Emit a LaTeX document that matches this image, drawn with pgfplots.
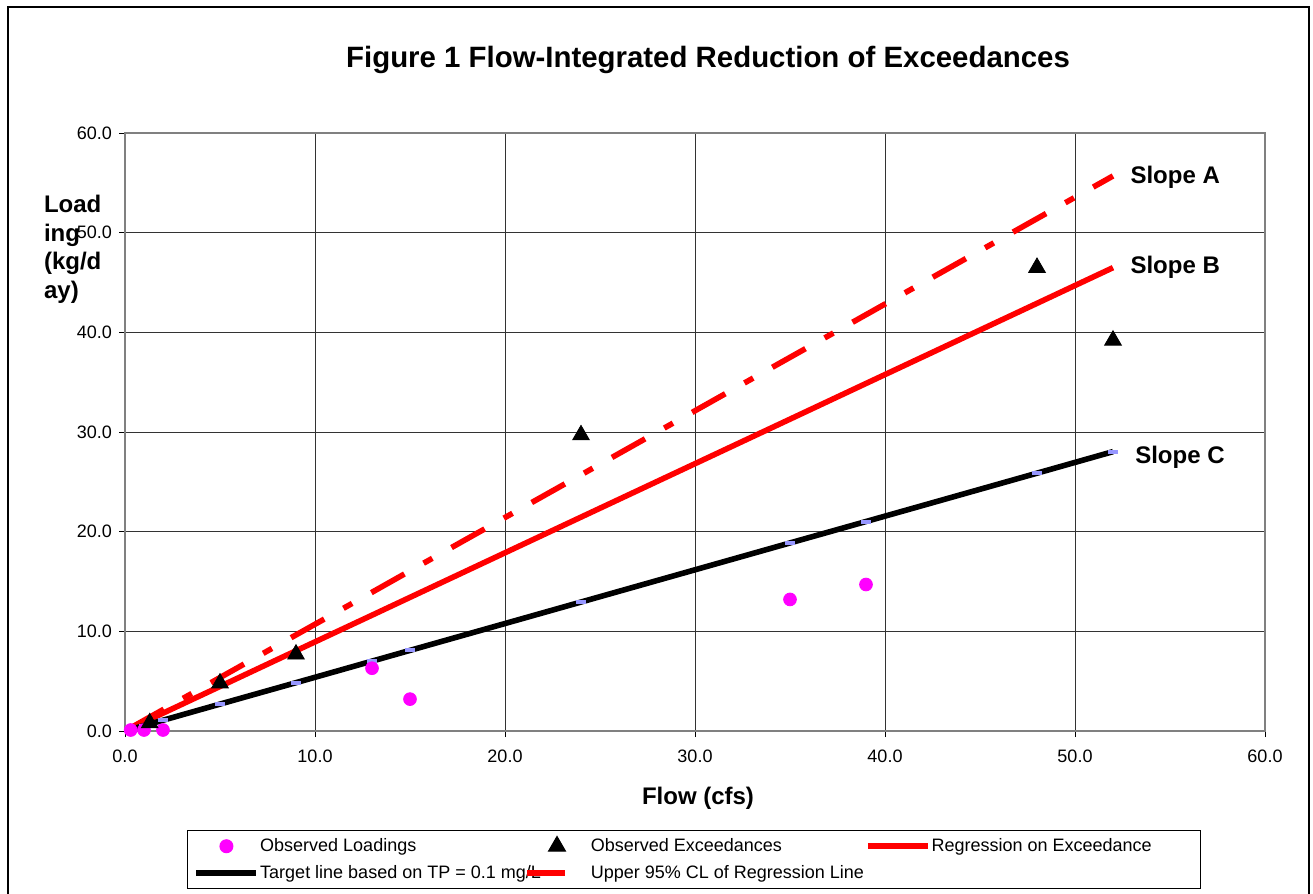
\documentclass[border=0pt]{standalone}
\usepackage{fontspec}
\setmainfont{Liberation Sans}
\usepackage{pgfplots}
\pgfplotsset{compat=1.18}
\definecolor{mag}{RGB}{255,0,255}
\definecolor{lav}{RGB}{150,150,255}
\definecolor{rd}{RGB}{255,0,0}
\pgfplotstableread{
x y
0.3 0.1
1.0 0.1
2.0 0.1
13 6.3
15 3.2
35 13.2
39 14.7
}\loadings
\pgfplotstableread{
x y
1.3 0.8
5 4.8
9 7.7
24 29.7
48 46.5
52 39.2
}\exceed
\pgfplotstableread{
x reg upper target
0.3 0.27 0.32 0.16
1 0.89 1.07 0.54
2 1.79 2.14 1.08
5 4.47 5.36 2.70
9 8.05 9.64 4.85
13 11.62 13.92 7.01
15 13.41 16.07 8.09
24 21.46 25.70 12.94
35 31.29 37.49 18.87
39 34.87 41.77 21.02
48 42.91 51.41 25.87
52 46.49 55.69 28.03
}\lines
\begin{document}
\begin{tikzpicture}
\useasboundingbox (0,0) rectangle (656.5pt,-447pt);
\draw[line width=1pt] (4pt,-3.5pt) rectangle (654.5pt,-470pt);
\node[font=\bfseries\fontsize{14.7}{17}\selectfont] at (354pt,-30pt) {Figure 1 Flow-Integrated Reduction of Exceedances};
\node[font=\bfseries\fontsize{12}{14.3}\selectfont, align=left, anchor=north west] at (18.5pt,-94pt) {Load\\ing\\(kg/d\\ay)};
\node[font=\bfseries\fontsize{12}{14}\selectfont] at (349pt,-399pt) {Flow (cfs)};
\begin{axis}[
  at={(62.5pt,-365.5pt)}, anchor=south west,
  scale only axis, width=570pt, height=299pt,
  xmin=0, xmax=60, ymin=0, ymax=60,
  xtick={0,10,...,60}, ytick={0,10,...,60},
  tick pos=left, tick align=outside, major tick length=3pt,
  grid=major, major grid style={black!80, line width=0.5pt},
  axis line style={black!50, line width=0.6pt},
  tick style={black, line width=0.5pt},
  ticklabel style={font=\fontsize{9}{11}\selectfont},
  xticklabel style={yshift=-3pt},
  /pgf/number format/.cd, fixed, fixed zerofill, precision=1, assume math mode=true,
  /pgfplots/.cd,
  legend columns=3,
  legend style={at={(axis description cs:0.0544,-0.1656)}, anchor=north west,
    draw=black, line width=0.6pt, inner xsep=3pt, inner ysep=3pt,
    column sep=0pt, row sep=4.5pt,
    nodes={inner sep=0.5pt, font=\fontsize{9}{10}\selectfont, anchor=west}},
  legend cell align=left,
  legend image code/.code={\draw[mark repeat=2,mark phase=2,#1] plot coordinates {(0pt,0pt) (15pt,0pt) (30pt,0pt)};},
  clip=false,
]
\addlegendimage{only marks, mark=*, mark size=3.2pt, color=mag}
\addlegendentry{\makebox[131.5pt][l]{Observed Loadings}}
\addlegendimage{only marks, mark=triangle*, mark size=4.8pt, color=black}
\addlegendentry{\makebox[129.5pt][l]{Observed Exceedances}}
\addlegendimage{rd, line width=2.8pt}
\addlegendentry{\makebox[131pt][l]{Regression on Exceedance}}
\addlegendimage{black, line width=2.8pt}
\addlegendentry{\makebox[131.5pt][l]{Target line based on TP = 0.1 mg/L}}
\addlegendimage{rd, line width=2.8pt, dash pattern=on 19pt off 11pt on 5pt off 11pt}
\addlegendentry{Upper 95\% CL of Regression Line}

\addplot[forget plot, only marks, mark=-, mark size=2.6pt, mark options={lav, line width=2pt}] table[x=x, y=target] {\lines};
\addplot[forget plot, rd, line width=2.8pt, dash pattern=on 19pt off 11pt on 5pt off 11pt] table[x=x, y=upper] {\lines};
\addplot[forget plot, rd, line width=2.8pt] table[x=x, y=reg] {\lines};
\addplot[forget plot, black, line width=2.8pt] table[x=x, y=target] {\lines};
\addplot[forget plot, only marks, mark=*, mark size=3.2pt, color=mag] table[x=x, y=y] {\loadings};
\addplot[forget plot, only marks, mark=triangle*, mark size=4.8pt, color=black] table[x=x, y=y] {\exceed};

\node[anchor=west, font=\bfseries\fontsize{12}{14}\selectfont] at (axis cs:52.55,55.6) {Slope A};
\node[anchor=west, font=\bfseries\fontsize{12}{14}\selectfont] at (axis cs:52.55,46.5) {Slope B};
\node[anchor=west, font=\bfseries\fontsize{12}{14}\selectfont] at (axis cs:52.8,27.5) {Slope C};
\end{axis}
\end{tikzpicture}
\end{document}
